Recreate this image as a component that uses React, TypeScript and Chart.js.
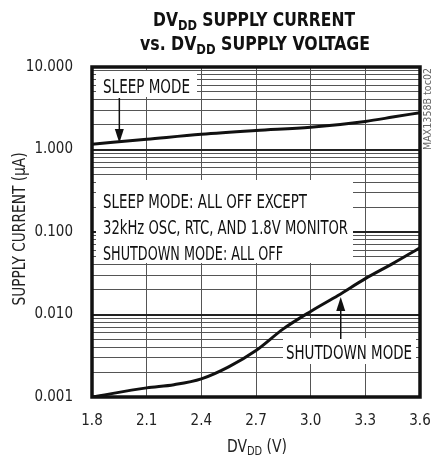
import { useEffect, useRef } from "react";
import { Chart, registerables } from "chart.js";

Chart.register(...registerables);

const FONT = '"Liberation Sans Narrow", "Arial Narrow", "DejaVu Sans Condensed", "Liberation Sans", sans-serif';

// axis ticks
const xTicks = [1.8, 2.1, 2.4, 2.7, 3.0, 3.3, 3.6];
const xTickLabels = ["1.8", "2.1", "2.4", "2.7", "3.0", "3.3", "3.6"];
const yDecades = [0.001, 0.01, 0.1, 1, 10];
const yTickLabels = ["0.001", "0.010", "0.100", "1.000", "10.000"];
const yMinorMultipliers = [2, 3, 4, 5, 6, 7, 8, 9];

// series
const sleepVoltage = [1.8, 2.1, 2.4, 2.7, 3.0, 3.3, 3.45, 3.6];
const sleepCurrent = [1.16, 1.33, 1.53, 1.7, 1.86, 2.19, 2.47, 2.8];
const shutdownVoltage = [1.8, 2.1, 2.25, 2.4, 2.55, 2.7, 2.85, 3.0, 3.15, 3.3, 3.45, 3.6];
const shutdownCurrent = [0.001, 0.00129, 0.00141, 0.00166, 0.00232, 0.00366, 0.0067, 0.0109, 0.017, 0.0272, 0.0414, 0.0645];

type Seg = { t: string; sub?: boolean };

function drawRich(
  ctx: CanvasRenderingContext2D,
  segs: Seg[],
  x: number,
  y: number,
  size: number,
  opts: { bold?: boolean; align?: "left" | "center"; width?: number; rotate?: number; color?: string } = {}
) {
  const fontFor = (s: Seg) => `${opts.bold ? "bold " : ""}${s.sub ? Math.round(size * 0.72) : size}px ${FONT}`;
  ctx.save();
  let total = 0;
  const widths: number[] = [];
  for (const s of segs) {
    ctx.font = fontFor(s);
    const w = ctx.measureText(s.t).width;
    widths.push(w);
    total += w;
  }
  const sx = opts.width ? opts.width / total : 1;
  ctx.translate(x, y);
  if (opts.rotate) ctx.rotate(opts.rotate);
  ctx.scale(sx, 1);
  let cx = opts.align === "center" ? -total / 2 : 0;
  ctx.fillStyle = opts.color || "#111";
  ctx.textBaseline = "alphabetic";
  ctx.textAlign = "left";
  segs.forEach((s, i) => {
    ctx.font = fontFor(s);
    ctx.fillText(s.t, cx, s.sub ? size * 0.2 : 0);
    cx += widths[i];
  });
  ctx.restore();
}

function arrow(ctx: CanvasRenderingContext2D, x: number, from: number, to: number) {
  const dir = to > from ? 1 : -1;
  const headLen = 14;
  const headHalf = 4.5;
  ctx.save();
  ctx.strokeStyle = "#111";
  ctx.fillStyle = "#111";
  ctx.lineWidth = 1.5;
  ctx.beginPath();
  ctx.moveTo(x, from);
  ctx.lineTo(x, to - dir * headLen);
  ctx.stroke();
  ctx.beginPath();
  ctx.moveTo(x, to);
  ctx.lineTo(x - headHalf, to - dir * headLen);
  ctx.lineTo(x + headHalf, to - dir * headLen);
  ctx.closePath();
  ctx.fill();
  ctx.restore();
}

const isDecade = (v: number) => yDecades.some((d) => Math.abs(v / d - 1) < 1e-6);

const annotPlugin = {
  id: "annot",
  beforeDatasetsDraw(chart: any) {
    const ctx = chart.ctx as CanvasRenderingContext2D;
    ctx.save();
    ctx.fillStyle = "#fff";
    ctx.fillRect(96, 71, 101, 26);
    ctx.fillRect(96, 180, 257, 83);
    ctx.fillRect(283, 338, 133, 26);
    ctx.restore();
  },
  afterDatasetsDraw(chart: any) {
    const ctx = chart.ctx as CanvasRenderingContext2D;
    const a = chart.chartArea;
    ctx.save();
    ctx.strokeStyle = "#111";
    ctx.lineWidth = 3.5;
    ctx.strokeRect(a.left, a.top, a.right - a.left, a.bottom - a.top);
    ctx.restore();

    const xs = chart.scales.x;
    arrow(ctx, xs.getPixelForValue(1.95), 98, 143);
    arrow(ctx, xs.getPixelForValue(3.165), 339, 297);

    drawRich(ctx, [{ t: "SLEEP MODE" }], 103, 93, 19, { width: 87 });
    drawRich(ctx, [{ t: "SLEEP MODE: ALL OFF EXCEPT" }], 103, 208, 19, { width: 204 });
    drawRich(ctx, [{ t: "32kHz OSC, RTC, AND 1.8V MONITOR" }], 103, 234, 19, { width: 245 });
    drawRich(ctx, [{ t: "SHUTDOWN MODE: ALL OFF" }], 103, 260, 19, { width: 180 });
    drawRich(ctx, [{ t: "SHUTDOWN MODE" }], 286, 359, 19, { width: 126 });
  },
  afterDraw(chart: any) {
    const ctx = chart.ctx as CanvasRenderingContext2D;
    drawRich(ctx, [{ t: "DV" }, { t: "DD", sub: true }, { t: " SUPPLY CURRENT" }], 254, 26, 19, {
      bold: true,
      align: "center",
      width: 202,
    });
    drawRich(ctx, [{ t: "vs. DV" }, { t: "DD", sub: true }, { t: " SUPPLY VOLTAGE" }], 255, 50, 19, {
      bold: true,
      align: "center",
      width: 230,
    });
    drawRich(ctx, [{ t: "SUPPLY CURRENT (\u00B5A)" }], 25, 229, 17, {
      align: "center",
      rotate: -Math.PI / 2,
      width: 153,
      color: "#222",
    });
    drawRich(ctx, [{ t: "DV" }, { t: "DD", sub: true }, { t: " (V)" }], 257, 452, 17, {
      align: "center",
      width: 60,
      color: "#222",
    });
    drawRich(ctx, [{ t: "MAX1358B toc02" }], 431, 109, 10, {
      align: "center",
      rotate: -Math.PI / 2,
      width: 82,
      color: "#666",
    });
  },
};

export default function App() {
  const ref = useRef<HTMLCanvasElement>(null);
  useEffect(() => {
    if (!ref.current) return;
    const yGrid: number[] = [];
    yDecades.forEach((d) => {
      yGrid.push(d);
      if (d < 10) yMinorMultipliers.forEach((m) => yGrid.push(d * m));
    });
    const chart = new Chart(ref.current, {
      type: "line",
      data: {
        datasets: [
          {
            label: "SLEEP MODE",
            data: sleepVoltage.map((v, i) => ({ x: v, y: sleepCurrent[i] })),
            borderColor: "#111",
            borderWidth: 3,
            pointRadius: 0,
            cubicInterpolationMode: "monotone",
            fill: false,
          },
          {
            label: "SHUTDOWN MODE",
            data: shutdownVoltage.map((v, i) => ({ x: v, y: shutdownCurrent[i] })),
            borderColor: "#111",
            borderWidth: 3,
            pointRadius: 0,
            cubicInterpolationMode: "monotone",
            fill: false,
          },
        ],
      },
      options: {
        responsive: false,
        animation: false,
        layout: { padding: { top: 67, right: 14, left: 0, bottom: 0 } },
        plugins: { legend: { display: false }, tooltip: { enabled: false }, title: { display: false } },
        scales: {
          x: {
            type: "linear",
            min: 1.8,
            max: 3.6,
            afterBuildTicks: (s: any) => {
              s.ticks = xTicks.map((v) => ({ value: v }));
            },
            afterFit: (s: any) => {
              s.height = 60;
              s.paddingLeft = 0;
              s.paddingRight = 0;
            },
            ticks: {
              autoSkip: false,
              maxRotation: 0,
              padding: 15,
              color: "#222",
              font: { family: FONT, size: 15 },
              callback: (_v: any, i: number) => xTickLabels[i],
            },
            grid: { drawTicks: false, color: "#555", lineWidth: 1 },
            border: { display: false },
          },
          y: {
            type: "logarithmic",
            min: 0.001,
            max: 10,
            afterBuildTicks: (s: any) => {
              s.ticks = yGrid.map((v) => ({ value: v }));
            },
            afterFit: (s: any) => {
              s.width = 92;
              s.paddingTop = 0;
              s.paddingBottom = 0;
            },
            ticks: {
              autoSkip: false,
              padding: 19,
              color: "#222",
              font: { family: FONT, size: 15 },
              callback: (v: any) => {
                const i = yDecades.findIndex((d) => Math.abs(Number(v) / d - 1) < 1e-6);
                return i >= 0 ? yTickLabels[i] : "";
              },
            },
            grid: {
              drawTicks: false,
              color: (c: any) => (c.tick && isDecade(c.tick.value) ? "#222" : "#555"),
              lineWidth: (c: any) => (c.tick && isDecade(c.tick.value) ? 2 : 1),
            },
            border: { display: false },
          },
        },
      } as any,
      plugins: [annotPlugin],
    });
    return () => chart.destroy();
  }, []);
  return (
    <div style={{ position: "absolute", left: 0, top: 0, width: 434, height: 457, background: "#fff" }}>
      <canvas ref={ref} width={434} height={457} style={{ display: "block" }} />
    </div>
  );
}
